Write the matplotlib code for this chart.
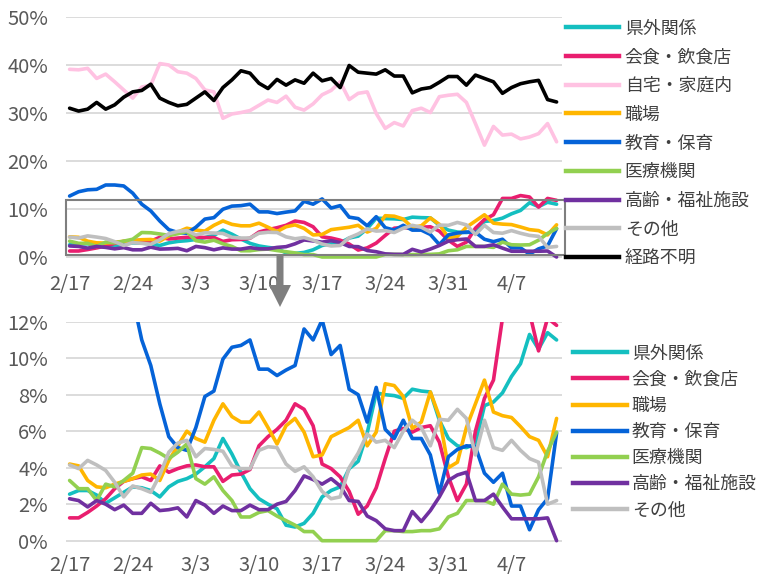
import numpy as np
import matplotlib
matplotlib.use("Agg")
import matplotlib.pyplot as plt
from matplotlib.lines import Line2D
from matplotlib.patches import Rectangle, FancyArrow
from matplotlib.transforms import IdentityTransform
from matplotlib.ticker import FuncFormatter

# daily share (%) by infection route, 2/17 - 4/12
tick_labels = ['2/17', '2/24', '3/3', '3/10', '3/17', '3/24', '3/31', '4/7']

keigai = [2.55, 2.75, 2.75, 2.5, 2.05, 2.35, 2.65, 2.95, 2.9, 2.75, 2.4, 2.95, 3.25, 3.4,
          3.65, 4.05, 4.5, 5.6, 4.75, 3.75, 2.85, 2.3, 2.0, 1.75, 0.85, 0.75, 0.95, 1.5,
          2.4, 2.75, 2.95, 3.95, 4.35, 5.9, 8.1, 8.0, 7.95, 7.8, 8.3, 8.2, 8.15, 6.6,
          5.6, 5.2, 5.1, 5.3, 7.4, 7.6, 8.1, 9.0, 9.7, 11.3, 10.5, 11.4, 11.0]
inshoku = [1.25, 1.25, 1.55, 1.9, 2.3, 2.85, 3.25, 3.4, 3.5, 3.3, 4.1, 3.75, 3.95, 4.1,
           4.15, 4.05, 4.05, 3.25, 3.6, 3.65, 3.9, 5.2, 5.7, 6.1, 6.6, 7.5, 7.2, 6.3,
           4.2, 3.95, 3.5, 2.7, 1.45, 1.9, 2.9, 4.5, 6.0, 6.15, 5.95, 6.2, 6.3, 5.4,
           3.5, 2.2, 3.1, 6.0, 7.8, 8.8, 12.2, 12.2, 12.8, 12.5, 10.4, 12.2, 11.8]
jitaku = [39.1, 39.0, 39.3, 37.2, 38.1, 36.5, 34.8, 33.1, 35.4, 35.8, 40.3, 40.0, 38.6, 38.3,
          37.2, 34.8, 34.4, 28.9, 29.8, 30.1, 30.5, 31.6, 32.7, 32.2, 33.5, 31.2, 30.6, 31.9,
          33.8, 34.7, 36.5, 32.8, 34.1, 34.4, 29.9, 26.8, 28.0, 27.3, 30.5, 31.0, 30.1, 33.4,
          33.7, 33.9, 32.2, 27.8, 23.3, 27.2, 25.4, 25.6, 24.6, 25.0, 25.7, 27.8, 24.0]
shokuba = [4.2, 4.1, 3.3, 2.95, 2.9, 3.1, 3.25, 3.4, 3.6, 3.65, 3.3, 4.4, 5.2, 6.0,
           5.6, 5.4, 6.6, 7.5, 6.8, 6.5, 6.5, 7.05, 6.2, 5.3, 6.3, 6.7, 5.95, 4.6,
           4.7, 5.7, 5.95, 6.2, 6.6, 5.2, 5.95, 8.6, 8.5, 7.9, 6.15, 6.5, 8.15, 6.8,
           4.0, 4.3, 6.2, 7.5, 8.8, 7.05, 6.85, 6.75, 6.25, 5.7, 5.5, 4.6, 6.7]
kyoiku = [12.7, 13.6, 14.0, 14.1, 15.0, 15.0, 14.8, 13.3, 11.0, 9.6, 7.5, 5.7, 5.1, 4.95,
          6.2, 7.9, 8.2, 9.95, 10.6, 10.7, 11.0, 9.4, 9.4, 9.05, 9.35, 9.6, 11.6, 11.0,
          12.1, 10.2, 10.7, 8.3, 8.0, 6.5, 8.4, 6.1, 5.6, 6.6, 5.6, 5.6, 4.7, 2.6,
          4.6, 5.0, 5.2, 5.15, 3.7, 3.2, 3.7, 1.9, 1.9, 0.6, 1.7, 2.3, 5.9]
iryo = [3.3, 2.85, 2.85, 2.2, 3.1, 2.95, 3.3, 3.7, 5.1, 5.05, 4.8, 4.5, 4.85, 5.3,
        3.4, 3.1, 3.5, 2.75, 2.2, 1.3, 1.3, 1.55, 1.65, 1.35, 1.1, 0.85, 0.5, 0.5,
        0, 0, 0, 0, 0, 0, 0, 0.55, 0.55, 0.5, 0.5, 0.55, 0.55, 0.65,
        1.3, 1.5, 2.2, 2.2, 2.2, 2.0, 3.1, 2.55, 2.5, 2.55, 3.5, 4.9, 5.95]
korei = [2.3, 2.2, 1.85, 2.2, 2.0, 1.7, 1.95, 1.5, 1.5, 2.05, 1.65, 1.7, 1.8, 1.3,
         2.2, 1.95, 1.5, 1.9, 1.65, 1.65, 1.95, 1.7, 1.7, 2.0, 2.15, 2.75, 3.55, 3.35,
         3.1, 3.4, 3.0, 2.2, 2.15, 1.35, 1.1, 0.65, 0.55, 0.55, 1.6, 1.05, 1.65, 2.4,
         3.3, 3.6, 3.75, 2.2, 2.2, 2.55, 1.85, 1.2, 1.2, 1.2, 1.2, 1.25, 0.0]
sonota = [4.15, 3.95, 4.4, 4.15, 3.85, 3.2, 2.4, 3.0, 2.85, 2.65, 3.6, 4.85, 5.35, 5.5,
          4.6, 5.05, 5.0, 4.9, 4.1, 3.95, 3.95, 4.95, 5.15, 5.1, 4.2, 3.8, 4.05, 3.5,
          2.7, 2.3, 2.4, 4.0, 4.8, 5.85, 5.4, 5.5, 5.1, 6.0, 6.6, 6.2, 5.2, 6.65,
          6.6, 7.2, 6.7, 4.7, 6.6, 5.1, 4.95, 5.5, 4.95, 4.5, 4.3, 2.0, 2.2]
fumei = [31.0, 30.4, 30.8, 32.2, 30.8, 31.7, 33.3, 34.4, 34.7, 36.0, 33.1, 32.2, 31.5, 31.8,
         33.1, 34.4, 32.6, 35.3, 36.9, 38.8, 38.3, 36.2, 35.1, 37.0, 35.8, 36.9, 36.2, 38.3,
         36.7, 37.2, 35.3, 39.9, 38.5, 38.3, 38.1, 39.0, 37.7, 37.7, 34.2, 35.0, 35.3, 36.4,
         37.6, 37.6, 35.8, 37.9, 37.2, 36.5, 34.1, 35.3, 36.1, 36.5, 36.8, 32.8, 32.3]

series_top = [
    ('県外関係', keigai, '#14BFC0'),
    ('会食・飲食店', inshoku, '#E91E6F'),
    ('自宅・家庭内', jitaku, '#FFC2E2'),
    ('職場', shokuba, '#FFB600'),
    ('教育・保育', kyoiku, '#0563D8'),
    ('医療機関', iryo, '#92D050'),
    ('高齢・福祉施設', korei, '#7030A0'),
    ('その他', sonota, '#BFBFBF'),
    ('経路不明', fumei, '#000000'),
]
bottom_names = ['県外関係', '会食・飲食店', '職場', '教育・保育', '医療機関', '高齢・福祉施設', 'その他']

plt.rcParams['font.family'] = ['Liberation Sans Narrow', 'Noto Sans CJK JP', 'DejaVu Sans']
cjk = {'family': ['Noto Sans CJK JP', 'DejaVu Sans'], 'size': 12.9}

W, H = 757, 577
fig = plt.figure(figsize=(W / 100, H / 100), dpi=100)

x = np.arange(len(fumei))
x0, x1 = -0.4, 54.6


def axes_px(left, right, y_zero, px_unit, ylo, yhi):
    # place an axes so that value 0 lands on pixel row y_zero
    bottom_px = y_zero + (-ylo) * px_unit
    top_px = y_zero - yhi * px_unit
    return fig.add_axes([left / W, 1 - bottom_px / H, (right - left) / W, (bottom_px - top_px) / H])


def style(ax, yticks, xpad):
    ax.set_xlim(x0, x1)
    for s in ax.spines.values():
        s.set_visible(False)
    ax.set_yticks(yticks)
    ax.yaxis.set_major_formatter(FuncFormatter(lambda v, p: f'{v:.0f}%'))
    ax.set_xticks(np.arange(0, 50, 7))
    ax.set_xticklabels(tick_labels)
    ax.tick_params(length=0, labelsize=14.5, labelcolor='#595959')
    ax.tick_params(axis='y', pad=13)
    ax.tick_params(axis='x', pad=xpad)
    ax.grid(axis='y', color='#D9D9D9', lw=1.3)
    ax.set_axisbelow(True)


ax1 = axes_px(66, 562, 257, 4.8, -0.6, 50)
ax1.set_ylim(-0.6, 50)
style(ax1, np.arange(0, 51, 10), 10.5)

ax2 = axes_px(66, 562, 540.7, 18.25, -0.15, 12)
ax2.set_ylim(-0.15, 12)
style(ax2, np.arange(0, 13, 2), 8)

handles_top = []
handles_bot = []
for name, vals, col in series_top:
    ax1.plot(x, vals, color=col, lw=2.6, solid_joinstyle='round', solid_capstyle='round')
    h = Line2D([], [], color=col, lw=3.2)
    handles_top.append(h)
    if name in bottom_names:
        ax2.plot(x, vals, color=col, lw=2.6, solid_joinstyle='round', solid_capstyle='round')
        handles_bot.append(h)

fig.legend(handles_top, [s[0] for s in series_top], loc='upper left',
           bbox_to_anchor=(566 / W, 1 - 19.5 / H), frameon=False, prop=cjk,
           borderpad=0, borderaxespad=0, handlelength=2.95, handletextpad=0.33,
           labelspacing=0.6, labelcolor='#404040')
fig.legend(handles_bot, bottom_names, loc='upper left',
           bbox_to_anchor=(573 / W, 1 - 344.5 / H), frameon=False, prop=cjk,
           borderpad=0, borderaxespad=0, handlelength=3.0, handletextpad=0.28,
           labelspacing=0.455, labelcolor='#404040')

# zoom box on the upper chart and arrow to the lower one
ax1.add_patch(Rectangle((x0, 0.42), 55.35, 11.52, fill=False, ec='#7F7F7F', lw=1.5,
                        clip_on=False, zorder=6))
fig.add_artist(FancyArrow(280, H - 255, 0, -52, width=7, head_width=22, head_length=22,
                          length_includes_head=True, color='#7F7F7F', lw=0,
                          transform=IdentityTransform()))

fig.savefig('out.png', dpi=100)
